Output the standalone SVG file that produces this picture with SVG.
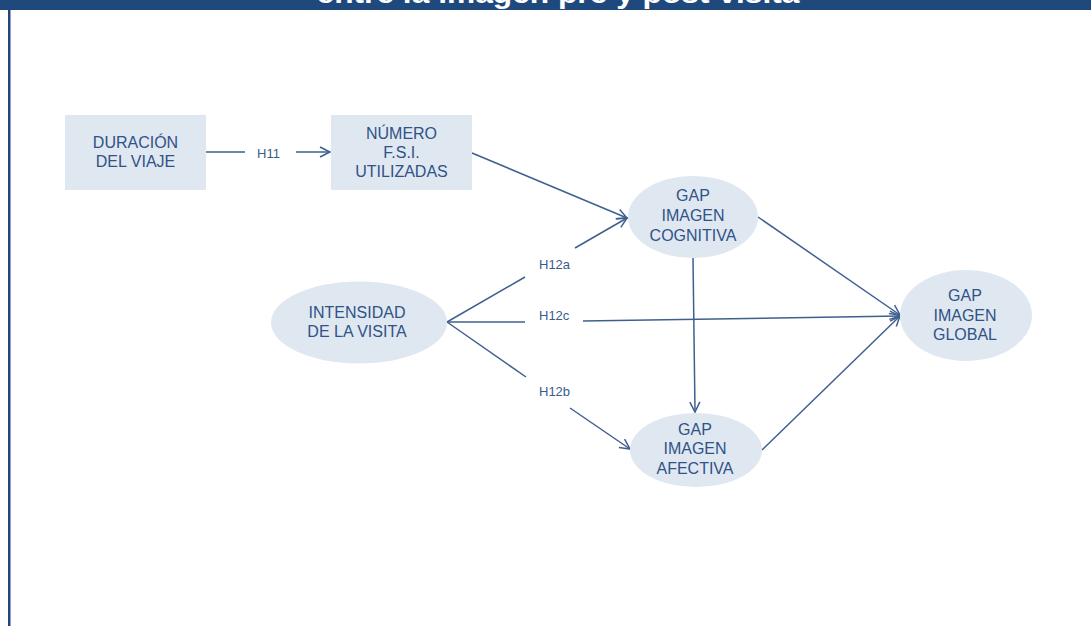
<svg xmlns="http://www.w3.org/2000/svg" width="1091" height="626" viewBox="0 0 1091 626">
<defs>
<marker id="arr" markerUnits="userSpaceOnUse" markerWidth="14" markerHeight="14" refX="11" refY="6" orient="auto" viewBox="0 0 14 12">
<path d="M1,1 L11,6 L1,11" fill="none" stroke="#3f5f8f" stroke-width="1.5"/>
</marker>
</defs>
<style>
.node{fill:#dfe7f1;}
.nt{font-family:"Liberation Sans",Arial,sans-serif;font-size:16px;fill:#2f5287;text-anchor:middle;}
.lbl{font-family:"Liberation Sans",Arial,sans-serif;font-size:13px;fill:#3a5c8c;}
.c{stroke:#3f5f8f;stroke-width:1.5;fill:none;}
.ca{stroke:#3f5f8f;stroke-width:1.5;fill:none;marker-end:url(#arr);}
</style>
<rect x="0" y="0" width="1091" height="626" fill="#ffffff"/>
<g id="header">
<rect x="0" y="0" width="1091" height="10" fill="#1f497d"/>
<rect x="8" y="10" width="2.5" height="616" fill="#1f497d"/>
<text x="558" y="3" font-family="Liberation Sans,Arial,sans-serif" font-weight="bold" font-size="27" fill="#ffffff" text-anchor="middle" textLength="483" lengthAdjust="spacingAndGlyphs">entre la imagen pre y post visita</text>
</g>
<g id="connectors">
<line class="c" x1="206" y1="152" x2="245" y2="152"/>
<line class="ca" x1="296" y1="152" x2="330" y2="152"/>
<line class="ca" x1="472" y1="153" x2="627" y2="218"/>
<line class="c" x1="447" y1="322" x2="525" y2="277"/>
<line class="ca" x1="575" y1="248" x2="627" y2="218"/>
<line class="c" x1="447" y1="322" x2="525" y2="322"/>
<line class="ca" x1="583" y1="321" x2="900" y2="316"/>
<line class="c" x1="447" y1="322" x2="526" y2="377"/>
<line class="ca" x1="570" y1="408" x2="630" y2="449"/>
<line class="ca" x1="693" y1="258" x2="695" y2="412"/>
<line class="ca" x1="758" y1="217" x2="900" y2="315"/>
<line class="ca" x1="762" y1="450" x2="900" y2="316"/>
<text class="lbl" x="257" y="158">H11</text>
<text class="lbl" x="539" y="269">H12a</text>
<text class="lbl" x="539" y="320">H12c</text>
<text class="lbl" x="539" y="396">H12b</text>
</g>
<g id="duracion">
<rect class="node" x="65" y="115" width="141" height="75"/>
<text class="nt" x="135.5" y="148">DURACIÓN</text>
<text class="nt" x="135.5" y="166.5">DEL VIAJE</text>
</g>
<g id="numero">
<rect class="node" x="331" y="115" width="141" height="75"/>
<text class="nt" x="401.5" y="139">NÚMERO</text>
<text class="nt" x="401.5" y="157.5">F.S.I.</text>
<text class="nt" x="401.5" y="177">UTILIZADAS</text>
</g>
<g id="cognitiva">
<ellipse class="node" cx="693" cy="217" rx="65" ry="41"/>
<text class="nt" x="693" y="201">GAP</text>
<text class="nt" x="693" y="221">IMAGEN</text>
<text class="nt" x="693" y="241">COGNITIVA</text>
</g>
<g id="intensidad">
<ellipse class="node" cx="359" cy="322.5" rx="88" ry="41"/>
<text class="nt" x="357" y="318">INTENSIDAD</text>
<text class="nt" x="357" y="337">DE LA VISITA</text>
</g>
<g id="afectiva">
<ellipse class="node" cx="696" cy="450" rx="66" ry="37"/>
<text class="nt" x="695" y="435">GAP</text>
<text class="nt" x="695" y="454">IMAGEN</text>
<text class="nt" x="695" y="474">AFECTIVA</text>
</g>
<g id="global">
<ellipse class="node" cx="966" cy="315.5" rx="66" ry="45.5"/>
<text class="nt" x="965" y="301">GAP</text>
<text class="nt" x="965" y="321">IMAGEN</text>
<text class="nt" x="965" y="340">GLOBAL</text>
</g>
</svg>
